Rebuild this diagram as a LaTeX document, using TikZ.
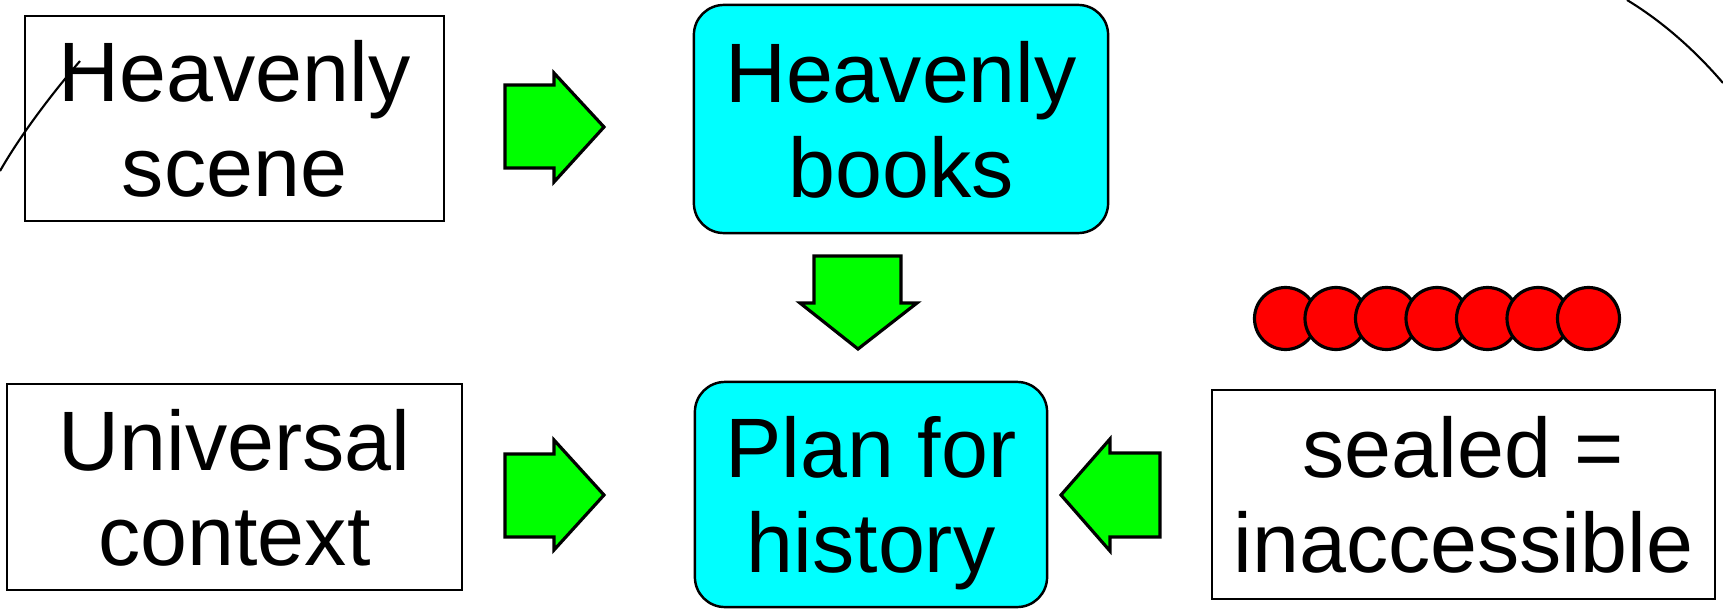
\documentclass[tikz,border=0pt]{standalone}
\usepackage{fontspec}
\setmainfont{Liberation Sans}
\definecolor{boxcyan}{RGB}{0,255,255}
\definecolor{arrowgreen}{RGB}{0,255,0}
\definecolor{sealred}{RGB}{255,0,0}
\begin{document}
\begin{tikzpicture}[x=0.01cm,y=-0.01cm,
  txt/.style={font=\fontsize{24}{27}\selectfont, align=center, inner sep=0pt, text depth=0pt},
  plainbox/.style={txt, draw=black, line width=0.7pt, fill=white},
  cyanbox/.style={txt, draw=black, line width=0.7pt, fill=boxcyan, rounded corners=0.3cm},
  blockarrow/.style={draw=black, fill=arrowgreen, line width=0.9pt, line join=miter},
  seal/.style={draw=black, fill=sealred, line width=0.9pt},
  arcline/.style={draw=black, line width=0.6pt}]
\useasboundingbox (0,0) rectangle (1723,609);

% boxes
\node[plainbox, minimum width=4.19cm, minimum height=2.05cm] (scene) at (234.5,118.5) {Heavenly\\scene};
\node[cyanbox, minimum width=4.14cm, minimum height=2.28cm] (books) at (901,119) {Heavenly\\books};
\node[plainbox, minimum width=4.55cm, minimum height=2.06cm] (context) at (234.5,487) {Universal\\context};
\node[cyanbox, minimum width=3.52cm, minimum height=2.25cm] (plan) at (871,494.5) {Plan for\\history};
\node[plainbox, minimum width=5.03cm, minimum height=2.09cm] (sealed) at (1463.5,494.5) {sealed =\\inaccessible};

% block arrows
\draw[blockarrow] (505,85) -- (554,85) -- (554,73) -- (604,127) -- (554,182) -- (554,168) -- (505,168) -- cycle;
\draw[blockarrow] (505,454) -- (554,454) -- (554,440) -- (604,495) -- (554,550) -- (554,537) -- (505,537) -- cycle;
\draw[blockarrow] (814,256) -- (901,256) -- (901,303) -- (917,303) -- (858,349) -- (800,303) -- (814,303) -- cycle;
\draw[blockarrow] (1160,453) -- (1110,453) -- (1110,439) -- (1061,495) -- (1110,551) -- (1110,537) -- (1160,537) -- cycle;

% seals
\foreach \i in {0,...,6} {
  \draw[seal] (1285.5+50.5*\i,318.5) circle [radius=31];
}

% arcs
\draw[arcline] (0,171) .. controls (20,136) and (50,96) .. (80,61);
\draw[arcline] (1627,0) .. controls (1660,20) and (1693,48) .. (1723,83);
\end{tikzpicture}
\end{document}
